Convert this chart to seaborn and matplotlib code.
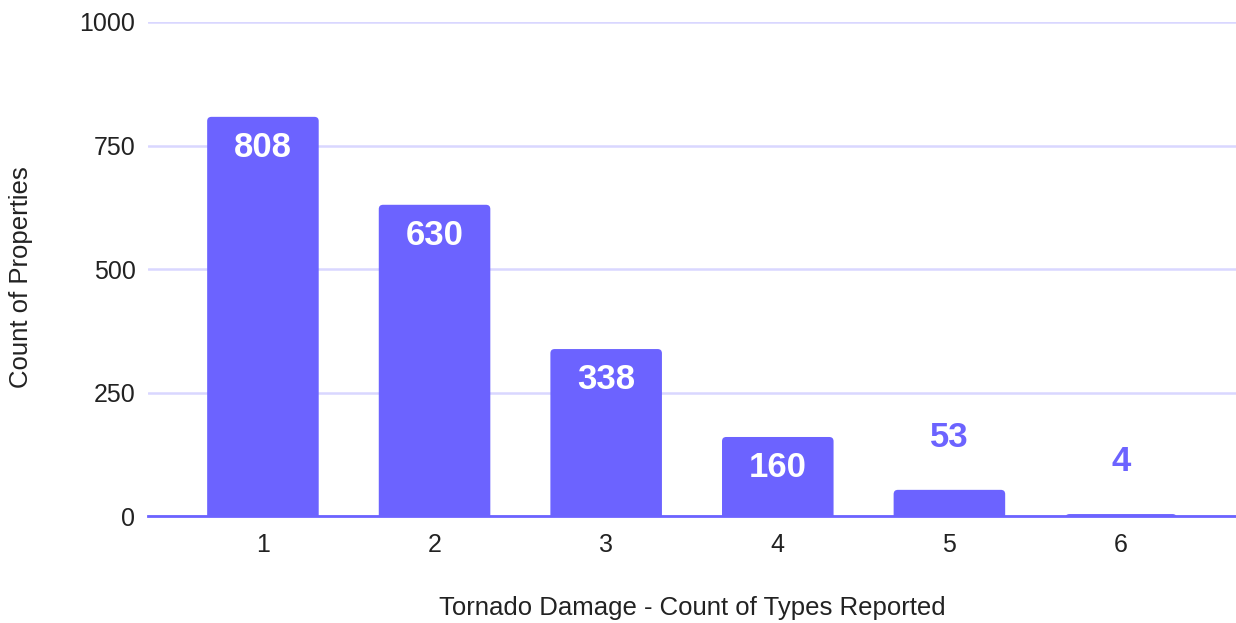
import matplotlib
matplotlib.use("Agg")
import matplotlib.pyplot as plt
from matplotlib.patches import FancyBboxPatch
import seaborn as sns
import pandas as pd

# 토네이도 피해 유형 수별 건물 수
types_reported = ['1', '2', '3', '4', '5', '6']
property_counts = [808, 630, 338, 160, 53, 4]

bar_color = '#6C63FF'
grid_color = '#D9D7FF'

df = pd.DataFrame({'types': types_reported, 'count': property_counts})

sns.set_theme(style='white')
plt.rcParams['font.family'] = ['Liberation Sans', 'DejaVu Sans']

fig = plt.figure(figsize=(12.36, 6.23), dpi=100)
ax = fig.add_axes([0.1197, 0.1717, 0.8803, 0.793])

sns.barplot(data=df, x='types', y='count', color=bar_color,
            width=0.65, saturation=1, ax=ax, zorder=3)

ax.set_xlim(-0.67, 5.67)
ax.set_ylim(0, 1000)

# 막대 모서리 둥글게 (아래쪽은 축 밖으로 내려서 잘리게)
for p in list(ax.patches):
    x0, w, h = p.get_x(), p.get_width(), p.get_height()
    rounded = FancyBboxPatch((x0, -20), w, h + 20,
                             boxstyle='round,pad=0,rounding_size=0.025',
                             mutation_aspect=347, fc=bar_color, ec='none',
                             zorder=3, clip_on=True)
    p.remove()
    ax.add_patch(rounded)

ax.set_yticks([0, 250, 500, 750, 1000])
ax.yaxis.grid(True, color=grid_color, lw=1.8, zorder=0)
ax.set_axisbelow(True)

for side in ['top', 'right', 'left']:
    ax.spines[side].set_visible(False)
ax.spines['bottom'].set_color(bar_color)
ax.spines['bottom'].set_linewidth(2)
ax.spines['bottom'].set_zorder(4)

ax.tick_params(axis='both', length=0, labelsize=18, colors='#222222')
ax.tick_params(axis='y', pad=9)
ax.tick_params(axis='x', pad=12)

ax.set_xlabel('Tornado Damage - Count of Types Reported', fontsize=18.5,
              color='#222222', labelpad=28)
ax.set_ylabel('Count of Properties', fontsize=18.5, color='#222222')
ax.yaxis.set_label_coords(-0.106, 0.484)

# 막대 값 표시: 큰 값은 막대 안쪽, 작은 값은 위쪽
for i, v in enumerate(property_counts):
    if v > 100:
        ax.text(i, v - 62, str(v), ha='center', va='center', fontsize=25,
                fontweight='bold', color='white', zorder=5)
    else:
        ax.text(i, v + 106, str(v), ha='center', va='center', fontsize=25,
                fontweight='bold', color=bar_color, zorder=5)

fig.savefig('out.png', dpi=100)
